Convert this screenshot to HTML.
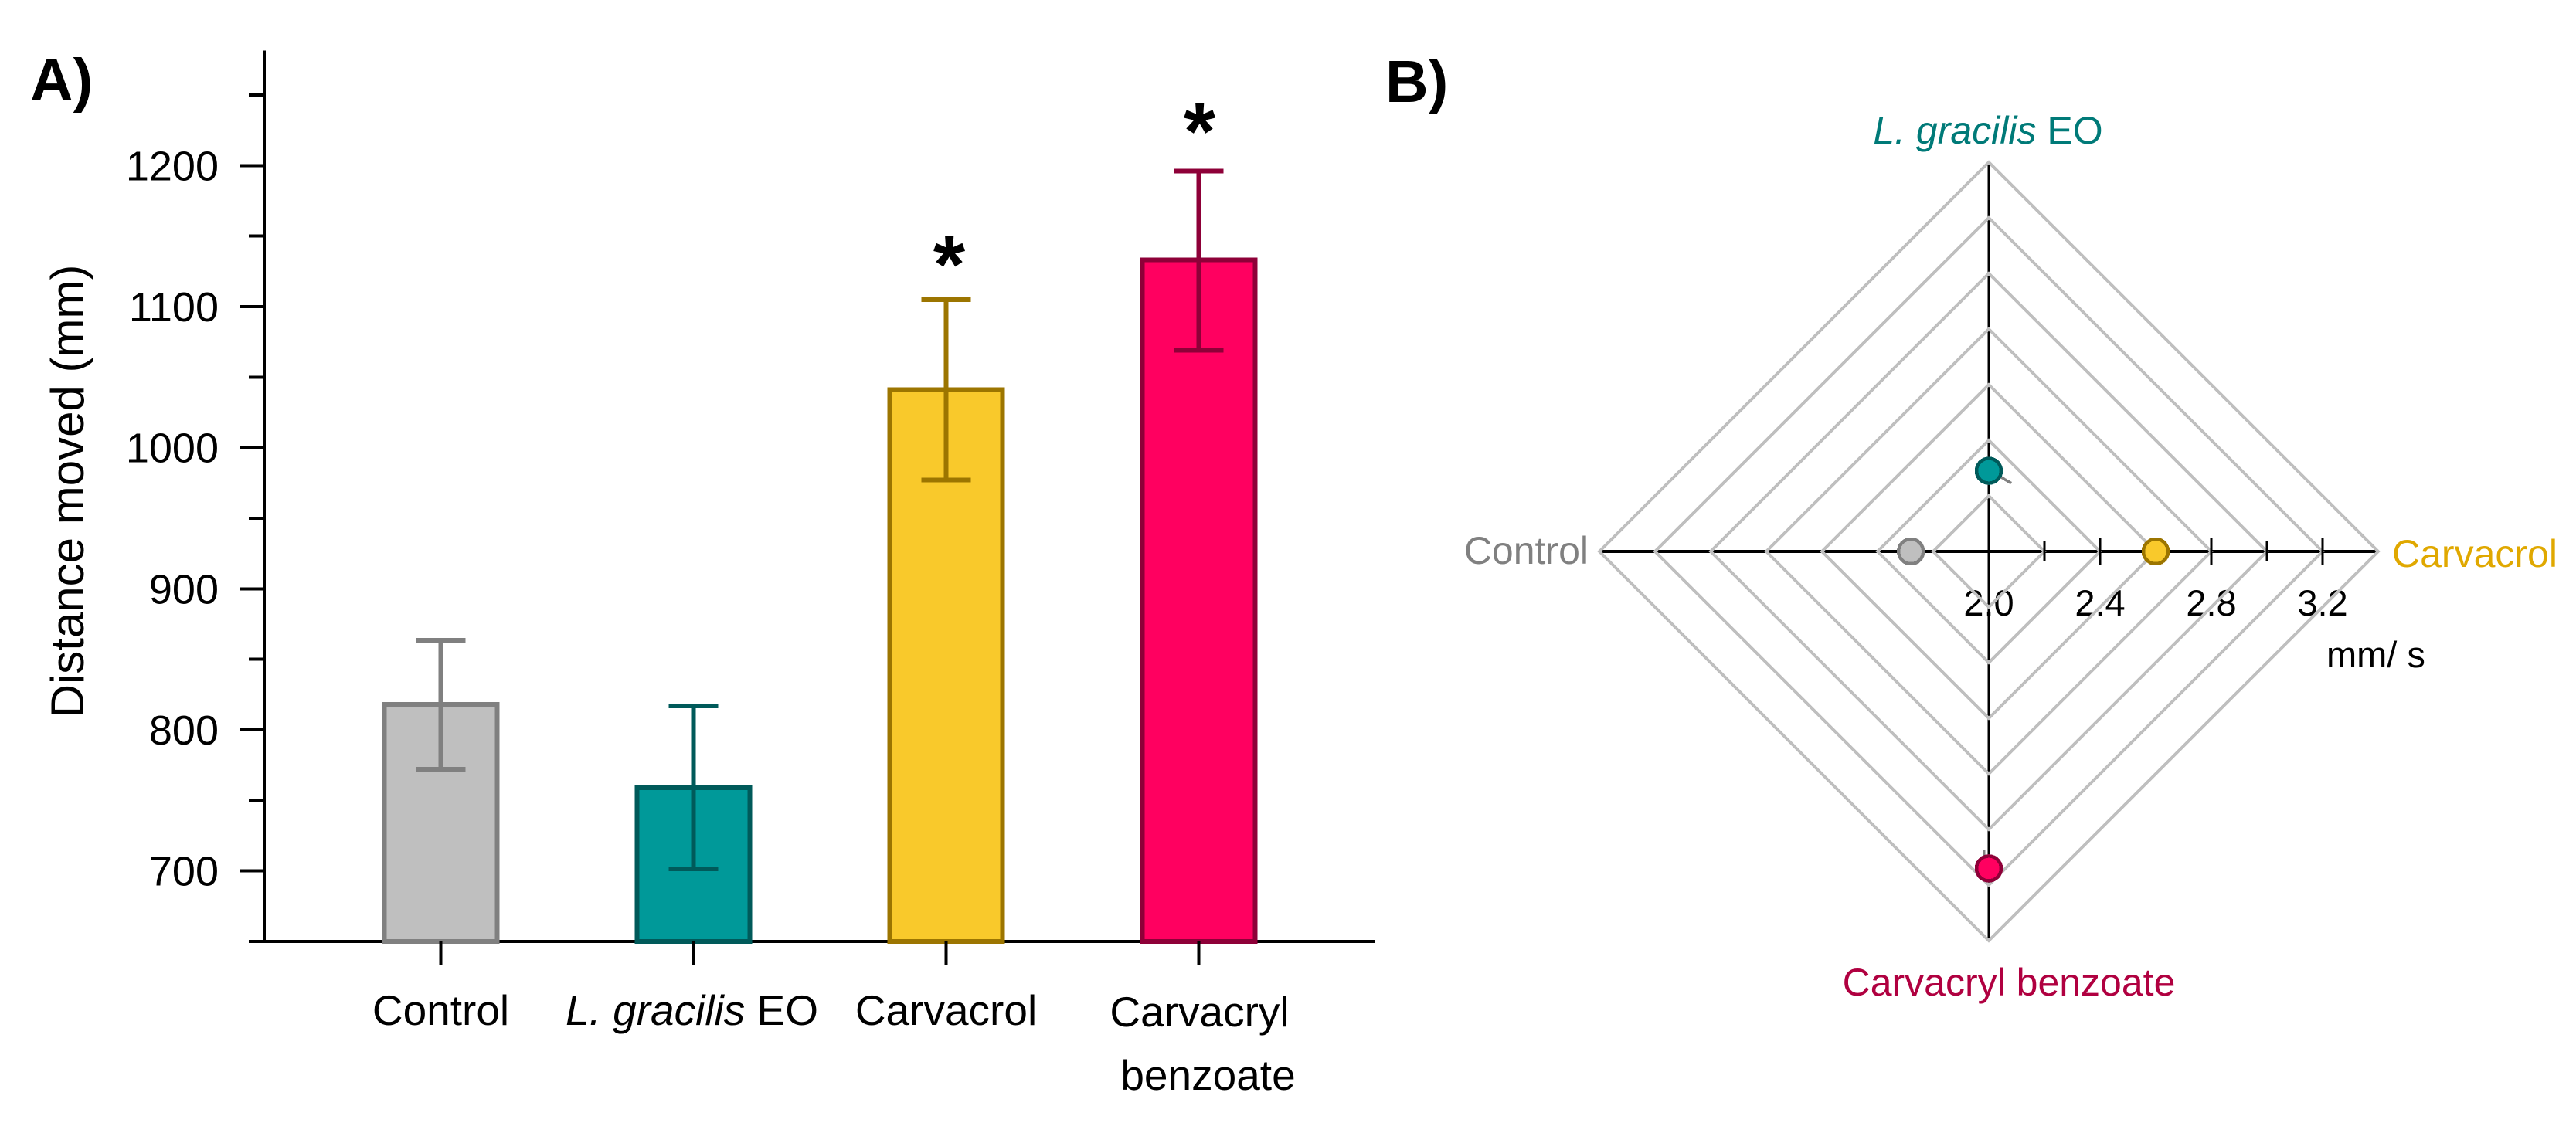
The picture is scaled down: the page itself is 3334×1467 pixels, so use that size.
<!DOCTYPE html>
<html lang="en">
<head>
<meta charset="utf-8">
<title>Distance moved and speed by treatment</title>
<style>
  html, body { margin: 0; padding: 0; background: #fff; }
  svg { display: block; }
  svg line, svg rect, svg polygon, svg circle { shape-rendering: crispEdges; }
  text { font-family: "Liberation Sans", Arial, sans-serif; }
</style>
</head>
<body>
<svg id="figure" xmlns="http://www.w3.org/2000/svg" width="3334" height="1467" viewBox="0 0 3334 1467">
  <rect x="0" y="0" width="3334" height="1467" fill="#ffffff"/>
  <g id="panel-a"></g>
  <g id="panel-b"></g>
  <text x="39" y="130" font-size="77" font-weight="700" fill="#000">A)</text>
  <text x="1793" y="132" font-size="77" font-weight="700" fill="#000">B)</text>
  <text transform="translate(108 636) rotate(-90)" text-anchor="middle" font-size="60" fill="#000">Distance moved (mm)</text>
  <text x="3011" y="864" font-size="47" fill="#000">mm/ s</text>
</svg>
<script>
// Bar chart data
const barCategories = ['Control', 'L. gracilis EO', 'Carvacrol', 'Carvacryl benzoate'];
const barMeans = [818, 759, 1041, 1133];
const barErrUpper = [863.5, 817, 1105, 1196];
const barErrLower = [772, 701.5, 977, 1069];
const barSignificant = [false, false, true, true];
const barFills = ['#bfbfbf', '#009999', '#f9c92b', '#ff0060'];
const barStrokes = ['#808080', '#005a5a', '#9c7500', '#8e0038'];
const yMajorTicks = [700, 800, 900, 1000, 1100, 1200];
const yMinorTicks = [650, 750, 850, 950, 1050, 1150, 1250];
const yDomain = [650, 1281.5];

// Radar chart data
const radarCategories = ['L. gracilis EO', 'Carvacrol', 'Carvacryl benzoate', 'Control'];
const radarValues = [2.29, 2.6, 3.14, 2.28];
const radarFills = ['#009999', '#f9c92b', '#ff0060', '#bfbfbf'];
const radarStrokes = ['#005a5a', '#9c7500', '#8e0038', '#808080'];
const radarLabelColors = ['#007a78', '#e0a800', '#b00040', '#808080'];
const radarRings = [2.2, 2.4, 2.6, 2.8, 3.0, 3.2, 3.4];
const radarMajorTicks = [2.4, 2.8, 3.2];
const radarMinorTicks = [2.2, 2.6, 3.0];
const radarTickLabels = ['2.0', '2.4', '2.8', '3.2'];
const radarLabelValues = [2.0, 2.4, 2.8, 3.2];

const NS = 'http://www.w3.org/2000/svg';
function mk(tag, attrs, parent) {
  const n = document.createElementNS(NS, tag);
  for (const k in attrs) n.setAttribute(k, attrs[k]);
  parent.appendChild(n);
  return n;
}
function addItalicLabel(textEl, full) {
  // "L. gracilis" is set in italics, the remainder upright
  if (full.indexOf('L. gracilis') === 0) {
    const a = mk('tspan', { 'font-style': 'italic' }, textEl);
    a.textContent = 'L. gracilis';
    const b = mk('tspan', {}, textEl);
    b.textContent = full.slice('L. gracilis'.length);
  } else {
    textEl.textContent = full;
  }
}

/* ---------- Panel A: bars ---------- */
const panelA = document.getElementById('panel-a');
const yScale = v => 1127.6 - (v - 700) * 1.8266;
const xBand = i => 570.5 + 327 * i;
const BAR_W = 146, CAP = 32, AXIS_X = 342;
const AXIS_BOTTOM = yScale(yDomain[0]);

let el;
el = mk('line', { x1: AXIS_X, x2: AXIS_X, y1: yScale(yDomain[1]), y2: AXIS_BOTTOM + 2, stroke: '#000', 'stroke-width': 4 }, panelA);


el = mk('line', { x1: 322, x2: 1780, y1: AXIS_BOTTOM, y2: AXIS_BOTTOM, stroke: '#000', 'stroke-width': 4 }, panelA);



yMajorTicks.forEach(v => {
  const t = mk('line', { x1: 310, x2: AXIS_X, y1: yScale(v), y2: yScale(v), stroke: '#000', 'stroke-width': 4 }, panelA);
  
  
  const l = mk('text', { x: 283, y: yScale(v) + 19, 'text-anchor': 'end', 'font-size': 54, fill: '#000' }, panelA);
  
  
  l.textContent = String(v);
});
yMinorTicks.forEach(v => {
  const t = mk('line', { x1: 322, x2: AXIS_X, y1: yScale(v), y2: yScale(v), stroke: '#000', 'stroke-width': 4 }, panelA);
  
  
});

barCategories.forEach((cat, i) => {
  const cx = xBand(i);
  const top = yScale(barMeans[i]);
  const b = mk('rect', { x: cx - BAR_W / 2, y: top, width: BAR_W, height: AXIS_BOTTOM - top, fill: barFills[i], stroke: barStrokes[i], 'stroke-width': 6 }, panelA);
  
  

  const up = yScale(barErrUpper[i]), lo = yScale(barErrLower[i]);
  const s = mk('line', { x1: cx, x2: cx, y1: up, y2: lo, stroke: barStrokes[i], 'stroke-width': 6 }, panelA);
  
  
  const c1 = mk('line', { x1: cx - CAP, x2: cx + CAP, y1: up, y2: up, stroke: barStrokes[i], 'stroke-width': 6 }, panelA);
  
  
  const c2 = mk('line', { x1: cx - CAP, x2: cx + CAP, y1: lo, y2: lo, stroke: barStrokes[i], 'stroke-width': 6 }, panelA);
  
  

  const t = mk('line', { x1: cx, x2: cx, y1: AXIS_BOTTOM, y2: 1249, stroke: '#000', 'stroke-width': 4 }, panelA);
  
  

  if (barSignificant[i]) {
    const a = mk('text', { x: cx + (i === 2 ? 4 : 1), y: up - (i === 2 ? 9 : 15), 'text-anchor': 'middle', 'font-size': 106, 'font-weight': 700, fill: '#000' }, panelA);
    
    
    a.textContent = '*';
  }

  if (cat === 'Carvacryl benzoate') {
    const parts = cat.split(' ');
    const l1 = mk('text', { x: cx + 1, y: 1329, 'text-anchor': 'middle', 'font-size': 55, fill: '#000' }, panelA);
    
    
    l1.textContent = parts[0];
    const l2 = mk('text', { x: cx + 12, y: 1411, 'text-anchor': 'middle', 'font-size': 55, fill: '#000' }, panelA);
    
    
    l2.textContent = parts[1];
  } else {
    const l = mk('text', { x: cx + (i === 2 ? 0 : (i === 1 ? -2 : 0)), y: 1327, 'text-anchor': 'middle', 'font-size': 55, fill: '#000' }, panelA);
    
    
    addItalicLabel(l, cat);
  }
});

/* ---------- Panel B: radar ---------- */
const panelB = document.getElementById('panel-b');
const CX = 2574, CY = 714;
const rScale = v => (v - 2.0) * 360;
// spoke direction for each category: up, right, down, left
const spokeAngle = i => -Math.PI / 2 + i * Math.PI / 2;
const polar = (i, v) => [CX + rScale(v) * Math.cos(spokeAngle(i)), CY + rScale(v) * Math.sin(spokeAngle(i))];
const ringMax = radarRings[radarRings.length - 1];

radarLabelValues.forEach((v, i) => {
  const l = mk('text', { x: CX + rScale(v), y: 797, 'text-anchor': 'middle', 'font-size': 47, fill: '#000' }, panelB);
  
  
  l.textContent = radarTickLabels[i];
});

el = mk('line', { x1: CX - rScale(ringMax), x2: CX + rScale(ringMax), y1: CY, y2: CY, stroke: '#000', 'stroke-width': 4 }, panelB);


el = mk('line', { x1: CX, x2: CX, y1: CY - rScale(ringMax), y2: CY + rScale(ringMax), stroke: '#000', 'stroke-width': 3 }, panelB);



radarRings.forEach(v => {
  const pts = [0, 1, 2, 3].map(i => polar(i, v).join(',')).join(' ');
  const r = mk('polygon', { points: pts, fill: 'none', stroke: '#bfbfbf', 'stroke-width': 4 }, panelB);
  
  
});

radarMajorTicks.forEach(v => {
  const t = mk('line', { x1: CX + rScale(v), x2: CX + rScale(v), y1: CY - 18, y2: CY + 18, stroke: '#000', 'stroke-width': 3 }, panelB);
  
  
});
radarMinorTicks.forEach(v => {
  const t = mk('line', { x1: CX + rScale(v), x2: CX + rScale(v), y1: CY - 13, y2: CY + 13, stroke: '#000', 'stroke-width': 3 }, panelB);
  
  
});

// small grey remnants of the series outline next to two markers
const tealPoint = polar(0, radarValues[0]);
el = mk('line', { x1: tealPoint[0] + 12, y1: tealPoint[1] + 6, x2: tealPoint[0] + 29, y2: tealPoint[1] + 16, stroke: '#808080', 'stroke-width': 3.5 }, panelB);


const pinkPoint = polar(2, radarValues[2]);
el = mk('line', { x1: pinkPoint[0] - 6, y1: pinkPoint[1] - 24, x2: pinkPoint[0] - 6, y2: pinkPoint[1] - 12, stroke: '#808080', 'stroke-width': 3 }, panelB);



radarCategories.forEach((cat, i) => {
  const p = polar(i, radarValues[i]);
  const m = mk('circle', { cx: p[0], cy: p[1], r: 16, fill: radarFills[i], stroke: radarStrokes[i], 'stroke-width': 4.5 }, panelB);
  
  
});

const radarLabelAttrs = [
  { x: 2573, y: 186, 'text-anchor': 'middle' },
  { x: 3096, y: 734, 'text-anchor': 'start' },
  { x: 2600, y: 1289, 'text-anchor': 'middle' },
  { x: 2056, y: 730, 'text-anchor': 'end' }
];
radarCategories.forEach((cat, i) => {
  const a = Object.assign({ 'font-size': 50, fill: radarLabelColors[i] }, radarLabelAttrs[i]);
  const l = mk('text', a, panelB);
  
  
  addItalicLabel(l, cat);
});
</script>
</body>
</html>
